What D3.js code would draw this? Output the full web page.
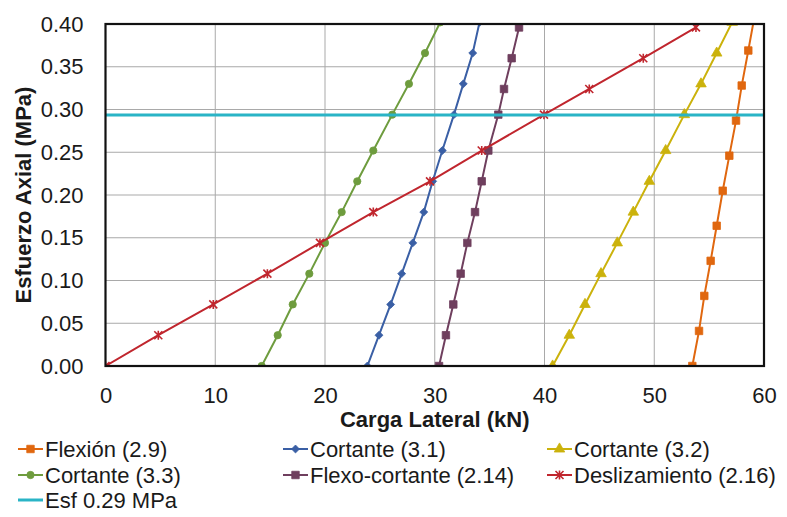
<!DOCTYPE html>
<html>
<head>
<meta charset="utf-8">
<script src="https://cdn.jsdelivr.net/npm/d3@7"></script>
<style>
  body { margin: 0; background: #fff; }
  text { font-family: "Liberation Sans", Arial, sans-serif; fill: #1a1a1a; }
</style>
</head>
<body>
<script>
// y values (MPa) used by the series
const yFlexion = [0, 0.041, 0.082, 0.123, 0.164, 0.205, 0.246, 0.287, 0.328, 0.369, 0.41];
const yCortante = [0, 0.036, 0.072, 0.108, 0.144, 0.18, 0.216, 0.252, 0.294, 0.33, 0.366, 0.402];
const yOtros = [0, 0.036, 0.072, 0.108, 0.144, 0.18, 0.216, 0.252, 0.294, 0.324, 0.36, 0.396];

// x values (kN)
const xFlexion29 = [53.47, 54.08, 54.56, 55.14, 55.69, 56.24, 56.84, 57.45, 57.97, 58.57, 59.15];
const xCortante31 = [23.86, 24.92, 25.98, 26.99, 28.0, 29.0, 29.81, 30.69, 31.75, 32.6, 33.46, 34.08];
const xCortante32 = [40.74, 42.26, 43.69, 45.15, 46.63, 48.09, 49.55, 51.04, 52.74, 54.26, 55.69, 57.1];
const xCortante33 = [14.23, 15.69, 17.06, 18.57, 20.0, 21.52, 22.94, 24.4, 26.13, 27.65, 29.11, 30.5];
const xFlexoCortante214 = [30.39, 31.02, 31.69, 32.36, 32.97, 33.67, 34.28, 34.88, 35.79, 36.31, 37.01, 37.68];
const xDeslizamiento216 = [0, 4.81, 9.82, 14.75, 19.54, 24.4, 29.57, 34.28, 39.95, 44.08, 49.0, 53.8];

const esfuerzo = 0.2935;
const xTicks = [0, 10, 20, 30, 40, 50, 60];
const yTicks = [0, 0.05, 0.1, 0.15, 0.2, 0.25, 0.3, 0.35, 0.4];

const series = [
  {name: "Flexión (2.9)", xs: xFlexion29, ys: yFlexion, color: "#e0670f", marker: "square"},
  {name: "Cortante (3.1)", xs: xCortante31, ys: yCortante, color: "#3a5fa5", marker: "diamond"},
  {name: "Cortante (3.2)", xs: xCortante32, ys: yCortante, color: "#cbb20c", marker: "triangle"},
  {name: "Cortante (3.3)", xs: xCortante33, ys: yCortante, color: "#6e9c3e", marker: "circle"},
  {name: "Flexo-cortante (2.14)", xs: xFlexoCortante214, ys: yOtros, color: "#6f3f5e", marker: "square"},
  {name: "Deslizamiento (2.16)", xs: xDeslizamiento216, ys: yOtros, color: "#c0262e", marker: "star"}
];
const cyan = "#2ab4c6";

const w = 787, h = 517;
const pLeft = 105.5, pRight = 764, pTop = 24, pBottom = 366;

const svg = d3.select("body").append("svg")
  .attr("width", w).attr("height", h);

const x = d3.scaleLinear().domain([0, 60]).range([pLeft, pRight]);
const y = d3.scaleLinear().domain([0, 0.4]).range([pBottom, pTop]);

svg.append("clipPath").attr("id", "plot")
  .append("rect").attr("x", pLeft).attr("y", pTop)
  .attr("width", pRight - pLeft).attr("height", pBottom - pTop);

// gridlines
svg.append("g").selectAll("line").data(xTicks.slice(1, -1)).enter().append("line")
  .attr("x1", d => x(d)).attr("x2", d => x(d))
  .attr("y1", pTop).attr("y2", pBottom)
  .attr("stroke", "#a9a9a9").attr("stroke-width", 1);
svg.append("g").selectAll("line").data(yTicks.slice(1, -1)).enter().append("line")
  .attr("x1", pLeft).attr("x2", pRight)
  .attr("y1", d => y(d)).attr("y2", d => y(d))
  .attr("stroke", "#a9a9a9").attr("stroke-width", 1);

// axes (labels only)
const xAxis = svg.append("g").attr("transform", `translate(0,${pBottom})`)
  .call(d3.axisBottom(x).tickValues(xTicks).tickSize(0).tickPadding(21));
const yAxis = svg.append("g").attr("transform", `translate(${pLeft},0)`)
  .call(d3.axisLeft(y).tickValues(yTicks).tickSize(0).tickPadding(22).tickFormat(d3.format(".2f")));
[xAxis, yAxis].forEach(a => {
  a.select(".domain").remove();
  a.selectAll("text").style("font-size", "22px").attr("fill", "#1a1a1a")
    .style("font-family", "'Liberation Sans', Arial, sans-serif");
});

svg.append("text")
  .attr("x", (pLeft + pRight) / 2).attr("y", 427)
  .attr("text-anchor", "middle")
  .style("font-size", "22px").style("font-weight", "bold")
  .text("Carga Lateral (kN)");
svg.append("text")
  .attr("transform", `translate(31,${(pTop + pBottom) / 2}) rotate(-90)`)
  .attr("text-anchor", "middle")
  .style("font-size", "22px").style("font-weight", "bold")
  .text("Esfuerzo Axial (MPa)");

function drawMarker(g, type, color) {
  if (type === "star") {
    g.append("path").attr("d", "M-4,-4L4,4M-4,4L4,-4M0,-4.5L0,4.5")
      .attr("stroke", color).attr("stroke-width", 1.6).attr("fill", "none");
    return;
  }
  const sym = {
    square: [d3.symbolSquare, 56],
    diamond: [d3.symbolDiamond2 || d3.symbolDiamond, 40],
    triangle: [d3.symbolTriangle, 48],
    circle: [d3.symbolCircle, 42]
  }[type];
  g.append("path").attr("d", d3.symbol().type(sym[0]).size(sym[1])())
    .attr("fill", color).attr("stroke", color).attr("stroke-width", 0.8);
}

const line = d3.line().x(d => x(d[0])).y(d => y(d[1]));
const plot = svg.append("g").attr("clip-path", "url(#plot)");

series.forEach(s => {
  const pts = s.xs.map((v, i) => [v, s.ys[i]]);
  plot.append("path").datum(pts)
    .attr("d", line).attr("fill", "none")
    .attr("stroke", s.color).attr("stroke-width", 2);
  plot.selectAll(null).data(pts).enter().append("g")
    .attr("transform", d => `translate(${x(d[0])},${y(d[1])})`)
    .each(function () { drawMarker(d3.select(this), s.marker, s.color); });
});

// Esf 0.29 MPa line
plot.append("path").datum([[0, esfuerzo], [60, esfuerzo]])
  .attr("d", line).attr("stroke", cyan).attr("stroke-width", 3).attr("fill", "none");

// plot border
svg.append("rect").attr("x", pLeft).attr("y", pTop)
  .attr("width", pRight - pLeft).attr("height", pBottom - pTop)
  .attr("fill", "none").attr("stroke", "#111").attr("stroke-width", 2.2);

// legend
const legendItems = series.concat([{name: "Esf 0.29 MPa", color: cyan, marker: null}]);
const colX = [18, 283, 547];
const rowY = [449, 475, 500];
legendItems.forEach((s, i) => {
  const g = svg.append("g")
    .attr("transform", `translate(${colX[i % 3]},${rowY[Math.floor(i / 3)]})`);
  g.append("line").attr("x1", 0).attr("x2", 25).attr("y1", 0).attr("y2", 0)
    .attr("stroke", s.color).attr("stroke-width", s.marker ? 2 : 3);
  if (s.marker) drawMarker(g.append("g").attr("transform", "translate(12.5,0)"), s.marker, s.color);
  g.append("text").attr("x", 27).attr("y", 8)
    .style("font-size", "22px").text(s.name);
});
</script>
</body>
</html>
